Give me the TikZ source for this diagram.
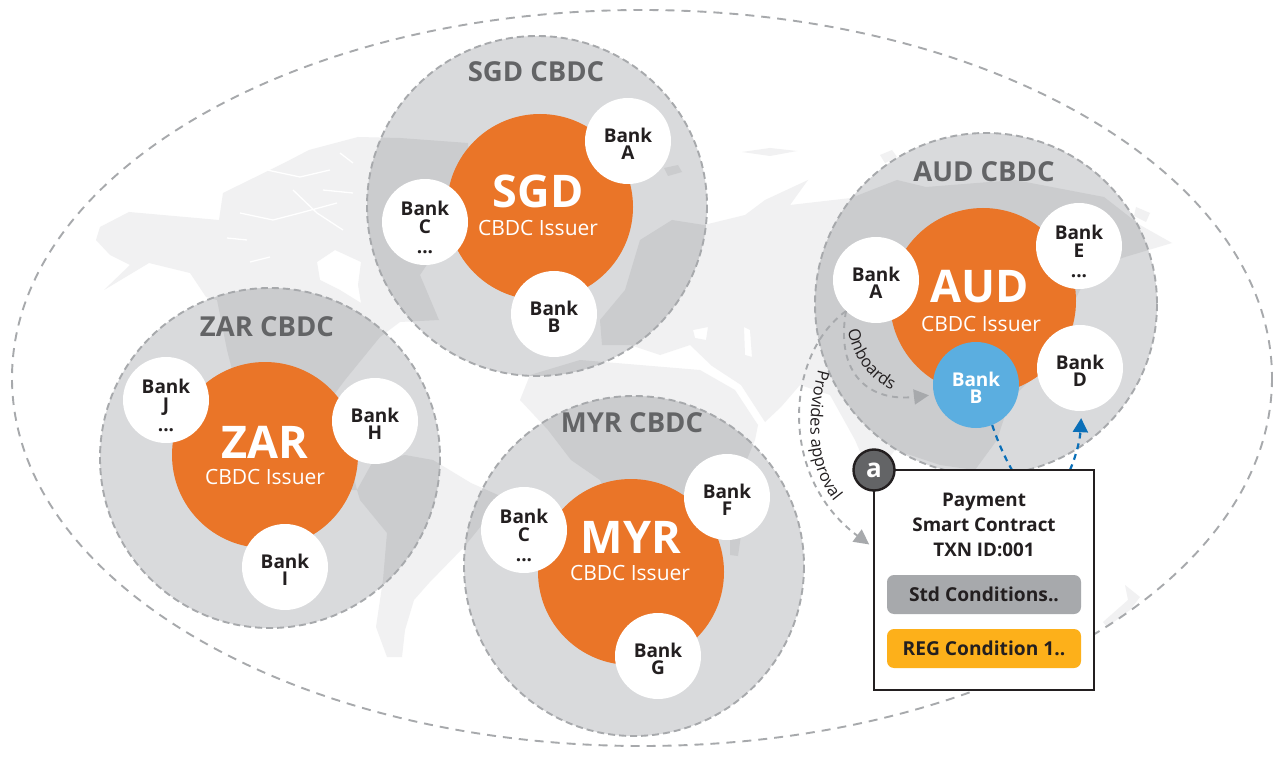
\documentclass[tikz,border=0pt]{standalone}
\usepackage{fontspec}
\setmainfont{Open Sans}
\usetikzlibrary{arrows.meta,decorations.text}
\definecolor{orangec}{HTML}{EA7528}
\definecolor{circfill}{HTML}{D9DADC}
\definecolor{mapdark}{HTML}{CBCCCE}
\definecolor{maplight}{HTML}{F1F1F2}
\definecolor{dashgray}{HTML}{A7A9AC}
\definecolor{labelgray}{HTML}{636466}
\definecolor{inkc}{HTML}{231F20}
\definecolor{bluefill}{HTML}{5BAEE0}
\definecolor{bluearrow}{HTML}{0A6FB8}
\definecolor{regc}{HTML}{FDB01A}
\newcommand{\fs}[1]{\fontsize{#1}{#1}\selectfont}
\newcommand{\worldmap}[2]{%
  \fill[#1,even odd rule]
    (96,240)--(100,227)--(129,212)--(219,220)--(223,193)--(284,163)--(309,150)--(358,137)--(400,138)--(468,143)--(470,175)--(440,205)--(430,260)--(420,275)--(439,320)--(400,322)--(380,337)--(345,380)--(330,400)--(330,430)--(325,445)--(350,462)--(357,490)--(340,490)--(310,460)--(270,440)--(240,400)--(227,350)--(217,300)--(206,297)--(190,273)--(149,263)--(104,290)--(130,265)--(110,255)--cycle
    (317,262)--(335,250)--(361,262)--(358,285)--(361,303)--(340,290)--(320,280)--cycle
    (357,490)--(372,463)--(405,455)--(433,460)--(471,483)--(498,495)--(490,515)--(464,547)--(429,583)--(414,600)--(405,630)--(402,657)--(387,657)--(376,627)--(383,580)--(387,533)--(360,500)--cycle
    (602,345)--(600,320)--(625,290)--(640,240)--(672,220)--(704,225)--(745,215)--(765,200)--(808,180)--(790,205)--(851,198)--(897,180)--(926,187)--(1015,180)--(1104,197)--(1140,225)--(1172,243)--(1125,257)--(1090,270)--(1075,300)--(1060,350)--(1010,400)--(997,440)--(975,470)--(940,465)--(895,450)--(880,470)--(868,470)--(855,440)--(830,395)--(800,385)--(781,407)--(765,422)--(741,385)--(712,366)--(690,345)--(660,355)--(630,345)--cycle
    (693,330)--(708,327)--(706,340)--(695,338)--cycle
    (744,327)--(750,330)--(752,357)--(745,355)--cycle
    (530,375)--(580,360)--(640,365)--(700,370)--(735,390)--(758,425)--(755,440)--(730,500)--(690,590)--(650,600)--(600,480)--(571,460)--(548,430)--(520,400)--cycle
    (730,530)--(741,535)--(738,556)--(730,555)--cycle
    (1125,585)--(1140,597)--(1130,610)--(1107,627)--(1103,622)--(1128,600)--cycle
    (1136,207)--(1150,213)--(1146,222)--(1134,216)--cycle
    (880,155)--(892,150)--(897,157)--(885,163)--cycle
    (664,168)--(678,165)--(682,172)--(668,176)--cycle
    (742,152)--(770,148)--(797,151)--(770,156)--cycle;
  \draw[#2,line width=1.3pt,line join=round]
    (240,213)--(273,220)--(300,213)--(337,203)
    (293,190)--(317,213)--(343,230)
    (323,190)--(353,193)
    (267,170)--(300,177)--(330,170)
    (340,153)--(353,163)
    (227,238)--(247,240)
    (250,262)--(270,257)
    (650,358)--(700,366);
}
\newcommand{\bankfont}{\fontsize{19}{17.5}\selectfont\bfseries}
\newcommand{\titlefont}{\fontsize{18.8}{25}\selectfont\bfseries}
\newcommand{\bkb}{\rule{0pt}{20pt}Bank}
\newcommand{\bkd}{\rule{0pt}{26pt}Bank}
\tikzset{
  outerc/.style={circle,fill=circfill,inner sep=0pt,minimum size=#1},
  issuer/.style={circle,fill=orangec,inner sep=0pt,minimum size=186pt},
  dashc/.style={draw=dashgray,line width=1.9pt,dash pattern=on 7pt off 4pt},
  bankc/.style={circle,fill=white,inner sep=0pt,minimum size=86pt,align=center,text=inkc,
    font=\bankfont},
  cbdclabel/.style={anchor=base,text=labelgray,font=\fs{27.5}\bfseries,inner sep=0pt},
  bigcode/.style={anchor=base,text=white,font=\fs{45}\bfseries,inner sep=0pt},
  issuertext/.style={anchor=base,text=white,font=\fs{21},inner sep=0pt},
  cond/.style={rounded corners=7pt,inner sep=0pt,minimum width=194pt,minimum height=39pt,text=inkc,font=\fs{19.2}\bfseries},
  grayarrow/.style={draw=dashgray,line width=1.9pt,dash pattern=on 6pt off 5pt,-{Triangle[length=15pt,width=15pt,fill=dashgray]}},
  bluearr/.style={draw=bluearrow,line width=2.2pt,dash pattern=on 6pt off 5pt},
}
\begin{document}
\begin{tikzpicture}[x=1pt,y=-1pt]
\useasboundingbox (0,0) rectangle (1275,778);
\fill[white] (0,0) rectangle (1275,778);
\worldmap{maplight}{white}
\draw[draw=dashgray,line width=1.9pt,dash pattern=on 9pt off 7pt] (642,378) ellipse [x radius=630,y radius=368];

% outer circles
\node[outerc=340pt] (sgdo) at (537,206) {};
\begin{scope}\clip (537,206) circle (170); \worldmap{mapdark}{circfill}\end{scope}
\draw[dashc] (537,206) circle (170);
\node[outerc=340pt] (zaro) at (270,458) {};
\begin{scope}\clip (270,458) circle (170); \worldmap{mapdark}{circfill}\end{scope}
\draw[dashc] (270,458) circle (170);
\node[outerc=340pt] (myro) at (634,566) {};
\begin{scope}\clip (634,566) circle (170); \worldmap{mapdark}{circfill}\end{scope}
\draw[dashc] (634,566) circle (170);
\node[outerc=342pt] (audo) at (986,304) {};
\begin{scope}\clip (986,304) circle (171); \worldmap{mapdark}{circfill}\end{scope}
\draw[dashc] (986,304) circle (171);

% SGD
\node[cbdclabel] (sgdl) at (536,82) {SGD CBDC};
\node[issuer] (sgdi) at (540,207) {};
\node[bigcode] (sgdb) at (538,208) {SGD};
\node[issuertext] (sgdt) at (538,236) {CBDC Issuer};
\node[bankc] (sa) at (628,141) {\bkb\\A};
\node[bankc] (sc) at (425,222) {\bkd\\C\\[3pt]...};
\node[bankc] (sb) at (554,314) {\bkb\\B};

% ZAR
\node[cbdclabel] (zarl) at (267,336) {ZAR CBDC};
\node[issuer] (zari) at (265,455) {};
\node[bigcode] (zarb) at (265,458) {ZAR};
\node[issuertext] (zart) at (265,484) {CBDC Issuer};
\node[bankc] (zj) at (166,400) {\bkd\\J\\[3pt]...};
\node[bankc] (zh) at (375,421) {\bkb\\H};
\node[bankc] (zi) at (285,567) {\bkb\\I};

% MYR
\node[cbdclabel] (myrl) at (632,432) {MYR CBDC};
\node[issuer] (myri) at (631,572) {};
\node[bigcode] (myrb) at (631,553) {MYR};
\node[issuertext] (myrt) at (630,580) {CBDC Issuer};
\node[bankc] (mc) at (524,530) {\bkd\\C\\[3pt]...};
\node[bankc] (mf) at (727,497) {\bkb\\F};
\node[bankc] (mg) at (658,656) {\bkb\\G};

% AUD
\node[cbdclabel] (audl) at (984,182) {AUD CBDC};
\node[issuer] (audi) at (983,301) {};
\node[bigcode] (audb) at (980,302) {AUD};
\node[issuertext] (audt) at (981,331) {CBDC Issuer};
\node[bankc] (aa) at (876,280) {\bkb\\A};
\node[bankc] (ae) at (1079,246) {\bkd\\E\\[3pt]...};
\node[bankc] (ad) at (1080,368) {\bkb\\D};
\node[bankc,fill=bluefill,text=white] (ab) at (976,385) {\bkb\\B};

% connectors
\coordinate (boxin) at (1012,470);
\coordinate (boxout) at (1070,470);
\coordinate (boxleft) at (874,548);
\draw[grayarrow,shorten >=5pt] (aa.226) .. controls (835,375) and (870,402) .. (ab.193);
\draw[grayarrow,shorten >=6pt] (aa.226) .. controls (785,355) and (778,477) .. (boxleft);
\draw[bluearr] (ab.-68) .. controls (998,442) and (1004,456) .. (boxin);
\draw[bluearr,-{Triangle[length=14pt,width=15pt,fill=bluearrow,sep=0pt]},shorten >=7pt] (boxout) .. controls (1076,456) and (1080,440) .. (ad.-88);

\path[decorate,decoration={text along path,text align=center,text={|\fs{16.5}\color{inkc}|Onboards}}]
  (847,325) .. controls (851,355) and (868,381) .. (897,392);
\path[decorate,decoration={text along path,text align=center,text={|\fs{16.5}\color{inkc}|Provides approval}}]
  (820,364) .. controls (806,410) and (804,470) .. (838,506);

% payment box
\node[draw=inkc,fill=white,line width=2.4pt,minimum width=220pt,minimum height=220pt,inner sep=0pt] (box) at (984,580) {};
\node[circle,draw=inkc,fill=labelgray,line width=2.4pt,minimum size=41pt,inner sep=0pt,text=white,font=\fs{26}\bfseries] (abadge) at (874,470) {a};
\node[align=center,text=inkc,font=\titlefont,inner sep=0pt] (title) at (984,525) {Payment\\Smart Contract\\TXN ID:001};
\node[cond,fill=dashgray] (std) at (984,594.5) {Std Conditions..};
\node[cond,fill=regc] (reg) at (984,648.5) {REG Condition 1..};
\end{tikzpicture}
\end{document}
